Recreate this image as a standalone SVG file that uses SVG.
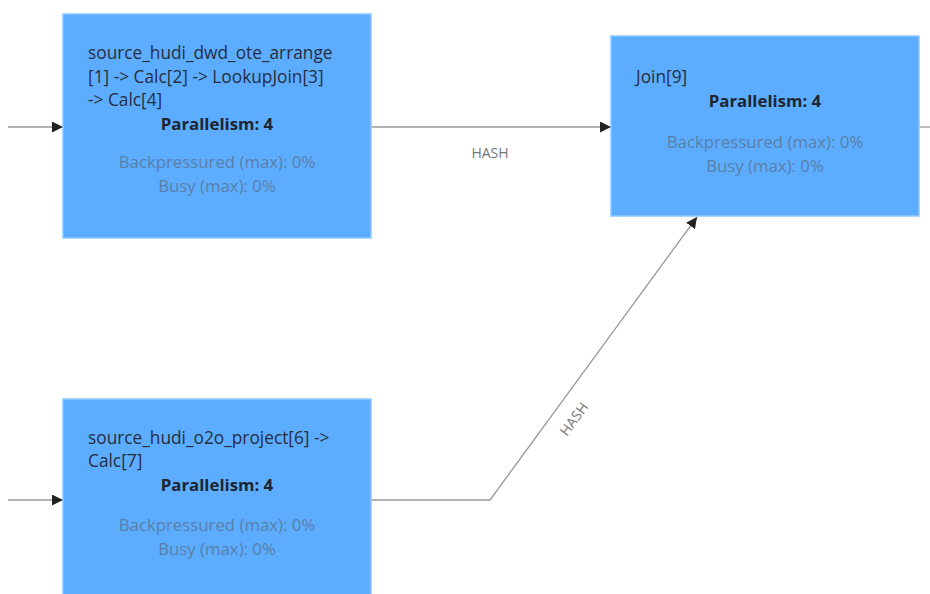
<svg xmlns="http://www.w3.org/2000/svg" width="930" height="594" viewBox="0 0 930 594">
<defs>
<marker id="arr" viewBox="0 0 10 10" refX="10" refY="5" markerWidth="11" markerHeight="11" markerUnits="userSpaceOnUse" orient="auto">
<path d="M0,0 L10,5 L0,10 z" fill="#222"/>
</marker>
<style>
.node{fill:#5CADFF;stroke:#8CC8FF;stroke-width:1.5}
.t{font-family:"Open Sans","Noto Sans","Liberation Sans",sans-serif;font-size:17.3px;fill:#262e3d}
.p{font-family:"Open Sans","Noto Sans","Liberation Sans",sans-serif;font-size:16.8px;font-weight:bold;fill:#1f2530;text-anchor:middle}
.m{font-family:"Open Sans","Noto Sans","Liberation Sans",sans-serif;font-size:16.8px;fill:#5a7fa8;text-anchor:middle}
.e{fill:none;stroke:#999;stroke-width:1.3}
.l{font-family:"Open Sans","Noto Sans","Liberation Sans",sans-serif;font-size:14px;fill:#777;text-anchor:middle}
</style>
</defs>
<rect width="930" height="594" fill="#fff"/>
<g id="connectors">
<line class="e" x1="8" y1="127" x2="63" y2="127" marker-end="url(#arr)"/>
<line class="e" x1="8" y1="500" x2="63" y2="500" marker-end="url(#arr)"/>
<line class="e" x1="371" y1="127" x2="611" y2="127" marker-end="url(#arr)"/>
<polyline class="e" points="371,500 490,500 697,217" marker-end="url(#arr)"/>
<line class="e" x1="919" y1="127" x2="930" y2="127"/>
<text class="l" x="490" y="158">HASH</text>
<text class="l" transform="translate(578,422) rotate(-53.8)">HASH</text>
</g>
<g id="node1">
<rect class="node" x="63" y="14" width="308" height="224"/>
<text class="t" x="88" y="59">source_hudi_dwd_ote_arrange</text>
<text class="t" x="88" y="83">[1] -&gt; Calc[2] -&gt; LookupJoin[3]</text>
<text class="t" x="88" y="106">-&gt; Calc[4]</text>
<text class="p" x="217" y="130">Parallelism: 4</text>
<text class="m" x="217" y="168">Backpressured (max): 0%</text>
<text class="m" x="217" y="192">Busy (max): 0%</text>
</g>
<g id="node2">
<rect class="node" x="611" y="36" width="308" height="180"/>
<text class="t" x="636" y="83">Join[9]</text>
<text class="p" x="765" y="107">Parallelism: 4</text>
<text class="m" x="765" y="148">Backpressured (max): 0%</text>
<text class="m" x="765" y="172">Busy (max): 0%</text>
</g>
<g id="node3">
<rect class="node" x="63" y="399" width="308" height="210"/>
<text class="t" x="88" y="444">source_hudi_o2o_project[6] -&gt;</text>
<text class="t" x="88" y="467">Calc[7]</text>
<text class="p" x="217" y="491">Parallelism: 4</text>
<text class="m" x="217" y="531">Backpressured (max): 0%</text>
<text class="m" x="217" y="555">Busy (max): 0%</text>
</g>
</svg>
